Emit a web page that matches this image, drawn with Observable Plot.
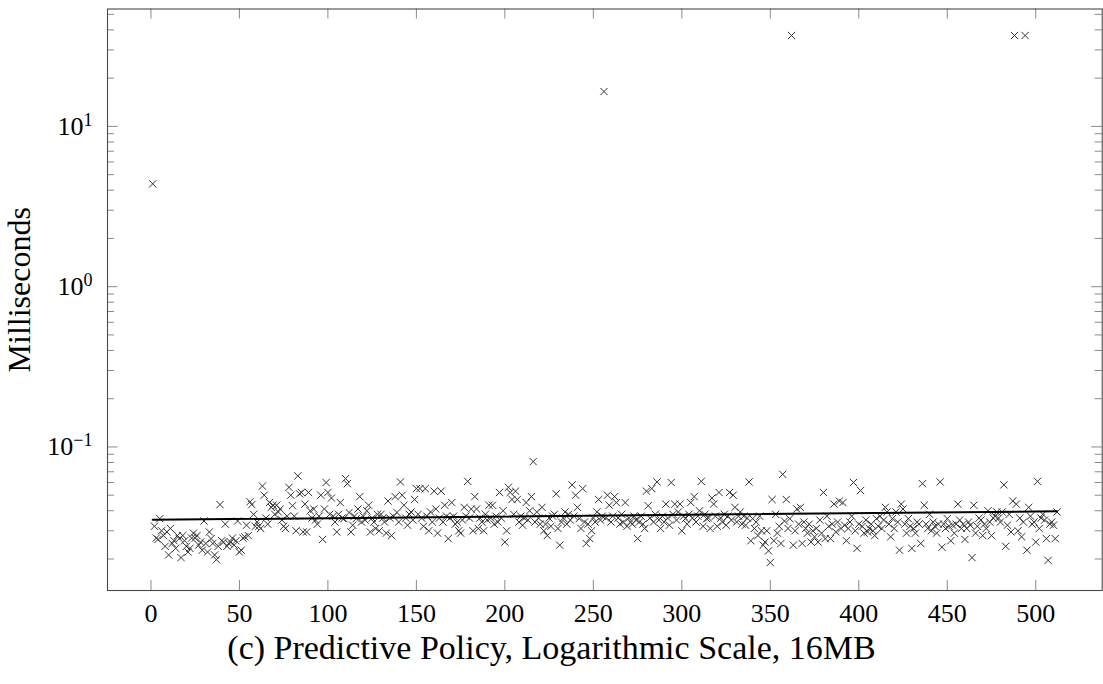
<!DOCTYPE html>
<html>
<head>
<meta charset="utf-8">
<script src="https://cdn.jsdelivr.net/npm/d3@7"></script>
<script src="https://cdn.jsdelivr.net/npm/@observablehq/plot@0.6"></script>
<style>
  body { margin: 0; background: #fff; }
  #caption { font-family: "Liberation Serif", serif; font-size: 34px; line-height: 40px; text-align: center; width: 1103px; color: #000; }
</style>
</head>
<body>
<div id="chart"></div>
<div id="caption"></div>
<script>
// Milliseconds per run (runs 1..512)
const runTimes = [
  4.38, 0.032, 0.027, 0.0265, 0.0357, 0.030, 0.028, 0.024, 0.0295, 0.0212,
  0.031, 0.025, 0.026, 0.0233, 0.028, 0.0268, 0.0204, 0.028, 0.026, 0.024,
  0.0221, 0.0233, 0.027, 0.029, 0.027, 0.028, 0.0244, 0.0255, 0.0227, 0.0345,
  0.025, 0.0221, 0.0295, 0.0268, 0.025, 0.0212, 0.0198, 0.024, 0.0437, 0.026,
  0.0255, 0.033, 0.024, 0.025, 0.0255, 0.027, 0.0244, 0.026, 0.0345, 0.0221,
  0.0227, 0.027, 0.0275, 0.0325, 0.028, 0.0455, 0.0437, 0.038, 0.032, 0.034,
  0.032, 0.031, 0.057, 0.050, 0.036, 0.033, 0.045, 0.042, 0.0433, 0.038,
  0.0433, 0.0393, 0.041, 0.035, 0.032, 0.031, 0.037, 0.056, 0.050, 0.043,
  0.037, 0.030, 0.066, 0.051, 0.052, 0.0295, 0.044, 0.0295, 0.052, 0.040,
  0.036, 0.041, 0.035, 0.033, 0.037, 0.050, 0.0265, 0.041, 0.060, 0.052,
  0.038, 0.048, 0.037, 0.034, 0.0295, 0.038, 0.045, 0.036, 0.0357, 0.0635,
  0.059, 0.039, 0.0295, 0.0325, 0.037, 0.0357, 0.041, 0.049, 0.034, 0.037,
  0.035, 0.040, 0.0433, 0.0295, 0.036, 0.034, 0.031, 0.038, 0.030, 0.038,
  0.036, 0.034, 0.029, 0.046, 0.036, 0.028, 0.037, 0.049, 0.039, 0.034,
  0.0605, 0.050, 0.0433, 0.036, 0.0325, 0.038, 0.0393, 0.035, 0.047, 0.055,
  0.038, 0.055, 0.036, 0.032, 0.055, 0.037, 0.030, 0.0393, 0.034, 0.053,
  0.041, 0.029, 0.036, 0.053, 0.034, 0.0433, 0.037, 0.0268, 0.036, 0.045,
  0.037, 0.033, 0.034, 0.030, 0.029, 0.035, 0.042, 0.037, 0.061, 0.036,
  0.041, 0.030, 0.049, 0.041, 0.031, 0.036, 0.034, 0.030, 0.038, 0.035,
  0.0433, 0.036, 0.0433, 0.033, 0.037, 0.034, 0.052, 0.036, 0.040, 0.0255,
  0.030, 0.056, 0.052, 0.047, 0.038, 0.053, 0.047, 0.034, 0.037, 0.0325,
  0.036, 0.045, 0.035, 0.040, 0.049, 0.081, 0.034, 0.0393, 0.036, 0.033,
  0.042, 0.030, 0.033, 0.028, 0.036, 0.032, 0.037, 0.038, 0.051, 0.031,
  0.0244, 0.034, 0.036, 0.0393, 0.033, 0.038, 0.035, 0.058, 0.037, 0.050,
  0.042, 0.0357, 0.031, 0.055, 0.034, 0.025, 0.033, 0.0268, 0.030, 0.036,
  0.034, 0.0393, 0.047, 0.035, 0.037, 16.5, 0.036, 0.050, 0.0433, 0.034,
  0.037, 0.049, 0.045, 0.036, 0.033, 0.038, 0.034, 0.045, 0.032, 0.036,
  0.034, 0.033, 0.037, 0.035, 0.0268, 0.034, 0.037, 0.033, 0.031, 0.053,
  0.043, 0.036, 0.055, 0.034, 0.038, 0.0605, 0.035, 0.031, 0.037, 0.034,
  0.044, 0.036, 0.0325, 0.060, 0.038, 0.044, 0.035, 0.0393, 0.044, 0.030,
  0.037, 0.0357, 0.033, 0.038, 0.045, 0.036, 0.049, 0.034, 0.037, 0.040,
  0.061, 0.032, 0.038, 0.0357, 0.036, 0.031, 0.048, 0.044, 0.037, 0.032,
  0.052, 0.036, 0.034, 0.038, 0.0325, 0.037, 0.052, 0.035, 0.050, 0.042,
  0.034, 0.037, 0.0393, 0.033, 0.037, 0.0325, 0.036, 0.0605, 0.026, 0.0357,
  0.031, 0.034, 0.028, 0.037, 0.030, 0.0244, 0.0255, 0.030, 0.0225, 0.019,
  0.047, 0.026, 0.038, 0.029, 0.032, 0.025, 0.0675, 0.0345, 0.047, 0.031,
  0.0357, 36.9, 0.0244, 0.030, 0.041, 0.033, 0.042, 0.025, 0.034, 0.031,
  0.029, 0.033, 0.0255, 0.030, 0.0275, 0.031, 0.0255, 0.035, 0.029, 0.052,
  0.0268, 0.037, 0.032, 0.0268, 0.033, 0.044, 0.0295, 0.034, 0.046, 0.031,
  0.045, 0.0325, 0.026, 0.031, 0.034, 0.037, 0.060, 0.030, 0.0233, 0.033,
  0.0535, 0.032, 0.029, 0.035, 0.0295, 0.031, 0.033, 0.030, 0.028, 0.0357,
  0.032, 0.037, 0.031, 0.035, 0.042, 0.0393, 0.033, 0.0275, 0.0357, 0.031,
  0.0393, 0.034, 0.0227, 0.044, 0.041, 0.033, 0.029, 0.0357, 0.032, 0.0233,
  0.031, 0.029, 0.034, 0.033, 0.025, 0.059, 0.0433, 0.033, 0.031, 0.038,
  0.030, 0.034, 0.032, 0.029, 0.033, 0.0605, 0.0237, 0.033, 0.031, 0.0357,
  0.032, 0.026, 0.0325, 0.029, 0.033, 0.044, 0.035, 0.031, 0.033, 0.0265,
  0.031, 0.034, 0.0325, 0.0204, 0.0433, 0.029, 0.032, 0.036, 0.035, 0.028,
  0.033, 0.031, 0.040, 0.034, 0.028, 0.036, 0.037, 0.0393, 0.036, 0.034,
  0.0393, 0.058, 0.024, 0.0325, 0.038, 0.0295, 0.046, 36.9, 0.044, 0.030,
  0.036, 0.0275, 0.034, 36.9, 0.0227, 0.042, 0.037, 0.033, 0.034, 0.0255,
  0.061, 0.031, 0.036, 0.038, 0.035, 0.0268, 0.0196, 0.033, 0.034, 0.0325,
  0.0268, 0.0393
];

// Trend line endpoints (run, ms)
const trendRuns = [1, 512];
const trendMs = [0.0351, 0.0397];

// Axes
const xTicks = [0, 50, 100, 150, 200, 250, 300, 350, 400, 450, 500];
const yMajorTicks = [0.1, 1, 10];
const yMajorExponents = ["\u22121", "0", "1"];
const yMinorTicks = [0.02, 0.03, 0.04, 0.05, 0.06, 0.07, 0.08, 0.09,
                     0.2, 0.3, 0.4, 0.5, 0.6, 0.7, 0.8, 0.9,
                     2, 3, 4, 5, 6, 7, 8, 9, 20, 30, 40, 50];
const yLabel = "Milliseconds";
const captionText = "(c) Predictive Policy, Logarithmic Scale, 16MB";

// Layout
const W = 1103, H = 628;
const mT = 8.5, mB = 38, mL = 107, mR = 1.3;
const innerW = W - mL - mR, innerH = H - mT - mB;

const samples = runTimes.map((ms, i) => ({run: i + 1, ms}));
const trend = trendRuns.map((r, i) => ({run: r, ms: trendMs[i]}));

const tickColor = "#8a8a8a";

const svg = Plot.plot({
  width: W, height: H,
  marginTop: mT, marginBottom: mB, marginLeft: mL, marginRight: mR,
  style: {fontFamily: '"Liberation Serif", serif', fontSize: "26px", color: "#000", background: "#fff"},
  x: {domain: [-24.55, 537.55]},
  y: {type: "log", domain: [0.01272, 54.0]},
  marks: [
    Plot.dot(samples, {x: "run", y: "ms", symbol: "times", r: 3.4, stroke: "#333", strokeWidth: 1}),
    Plot.line(trend, {x: "run", y: "ms", stroke: "#000", strokeWidth: 2}),
    // x ticks (inward, bottom and top)
    Plot.tickX(xTicks, {x: d => d, insetTop: innerH - 10, stroke: tickColor}),
    Plot.tickX(xTicks, {x: d => d, insetBottom: innerH - 10, stroke: tickColor}),
    // y major ticks (inward, left and right)
    Plot.tickY(yMajorTicks, {y: d => d, insetRight: innerW - 10.5, stroke: tickColor}),
    Plot.tickY(yMajorTicks, {y: d => d, insetLeft: innerW - 10.5, stroke: tickColor}),
    // y minor ticks
    Plot.tickY(yMinorTicks, {y: d => d, insetRight: innerW - 7, stroke: tickColor}),
    Plot.tickY(yMinorTicks, {y: d => d, insetLeft: innerW - 7, stroke: tickColor}),
    Plot.axisX({ticks: xTicks, tickSize: 0, tickPadding: 13, label: null, tickFormat: d => String(d)}),
    Plot.axisY({ticks: yMajorTicks, tickSize: 0, tickPadding: 15, label: null,
                tickFormat: d => "10^" + yMajorExponents[yMajorTicks.indexOf(d)]}),
    Plot.frame({stroke: "#4a4a4a", strokeWidth: 1.1}),
    Plot.text([yLabel], {text: d => d, frameAnchor: "left", textAnchor: "middle", rotate: -90,
                         dx: -88, dy: -10, fontSize: 32, lineAnchor: "middle", fill: "#000"})
  ]
});

// superscript formatting for the log tick labels
d3.select(svg).selectAll('g[aria-label="y-axis tick label"] text').each(function () {
  const t = d3.select(this);
  const parts = t.text().split("^");
  t.text(null);
  t.append("tspan").text(parts[0]);
  t.append("tspan").attr("font-size", "18px").attr("dy", "-9").text(parts[1]);
});

document.getElementById("chart").appendChild(svg);
document.getElementById("caption").textContent = captionText;
</script>
</body>
</html>
